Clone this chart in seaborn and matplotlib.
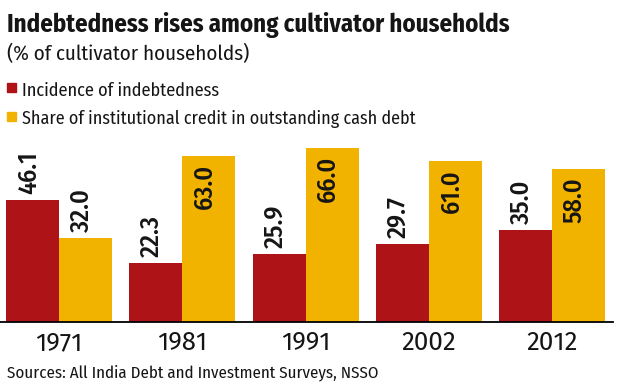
import matplotlib
matplotlib.use("Agg")
import matplotlib.pyplot as plt
import matplotlib.font_manager as fm
import seaborn as sns
import pandas as pd

years = ["1971", "1981", "1991", "2002", "2012"]
incidence = [46.1, 22.3, 25.9, 29.7, 35.0]
institutional = [32.0, 63.0, 66.0, 61.0, 58.0]
series_names = ["Incidence of indebtedness",
                "Share of institutional credit in outstanding cash debt"]
colors = ["#AE1317", "#F2B200"]

title = "Indebtedness rises among cultivator households"
subtitle = "(% of cultivator households)"
source = "Sources: All India Debt and Investment Surveys, NSSO"

df = pd.DataFrame({
    "year": years * 2,
    "value": incidence + institutional,
    "series": [series_names[0]] * len(years) + [series_names[1]] * len(years),
})

sns.set_theme(style="white")

avail = {f.name for f in fm.fontManager.ttflist}
cands = ["Fira Sans Condensed", "PT Sans Narrow", "Roboto Condensed",
         "Open Sans Condensed", "Archivo Narrow", "Encode Sans Condensed",
         "Asap Condensed", "Barlow Semi Condensed", "Liberation Sans Narrow",
         "Lato"]
main = next((c for c in cands if c in avail), "DejaVu Sans")
FONT = [main, "DejaVu Sans"]
wide = next((c for c in ["Fira Sans", "Open Sans", "Lato"] if c in avail), main)
YFONT = [wide, "DejaVu Sans"]
plt.rcParams["font.family"] = FONT
TXT = "#151515"

W, H = 620, 387
fig = plt.figure(figsize=(W / 100, H / 100), dpi=100)
fig.patch.set_facecolor("white")
renderer = fig.canvas.get_renderer()


def fit(t, target_w):
    bb = t.get_window_extent(renderer)
    t.set_fontsize(t.get_fontsize() * target_w / bb.width)
    return t


def size_for(s, target_w, **kw):
    t = fig.text(0, 0, s, fontsize=20, **kw)
    bb = t.get_window_extent(renderer)
    fs = 20 * target_w / bb.width
    t.remove()
    return fs


ax_left, ax_right, ax_bottom, ax_top = 0, 613, 322, 140
ax = fig.add_axes([ax_left / W, (H - ax_bottom) / H,
                   (ax_right - ax_left) / W, (ax_bottom - ax_top) / H])

sns.barplot(data=df, x="year", y="value", hue="series", palette=colors,
            width=0.86, gap=0, saturation=1, legend=False, ax=ax,
            edgecolor="none", linewidth=0)

ax.set_ylim(0, (ax_bottom - ax_top) / 2.64)
ax.set_xlim(-0.479, 4.495)
ax.set_xlabel("")
ax.set_ylabel("")
ax.set_yticks([])
for s in ["top", "right", "left"]:
    ax.spines[s].set_visible(False)
ax.spines["bottom"].set_color("black")
ax.spines["bottom"].set_linewidth(1.3)

year_fs = size_for("1971", 47, fontfamily=YFONT)
ax.tick_params(axis="x", length=0, pad=6, labelsize=year_fs, colors=TXT)
for lab in ax.get_xticklabels():
    lab.set_fontfamily(YFONT)

val_fs = size_for("46.1", 43, fontweight="medium")
for ci, cont in enumerate(ax.containers):
    for bar in cont:
        h = bar.get_height()
        xc = bar.get_x() + bar.get_width() / 2
        inside = h > 50
        ax.annotate(f"{h:.1f}", (xc, h),
                    xytext=(-4, -8 if inside else 6),
                    textcoords="offset pixels",
                    rotation=90, ha="center",
                    va="top" if inside else "bottom",
                    fontsize=val_fs, fontweight="medium", color=TXT,
                    fontfamily=FONT, annotation_clip=False)


def ftext(x, y, s, target_w, **kw):
    t = fig.text(x / W, 1 - y / H, s, va="baseline", ha="left",
                 color=TXT, fontfamily=FONT, fontsize=14, **kw)
    return fit(t, target_w)


ftext(7, 32, title, 503, fontweight="bold")
ftext(7, 60, subtitle, 243)
legend_w = [198, 391]
for i, (name, c) in enumerate(zip(series_names, colors)):
    top = 83 + i * 29
    fig.patches.append(plt.Rectangle((7 / W, 1 - (top + 9) / H), 9 / W, 9 / H,
                                     transform=fig.transFigure, color=c,
                                     figure=fig))
    ftext(22, 96 + i * 28, name, legend_w[i])

ftext(7, 377, source, 373)

fig.savefig("out.png", dpi=100)
